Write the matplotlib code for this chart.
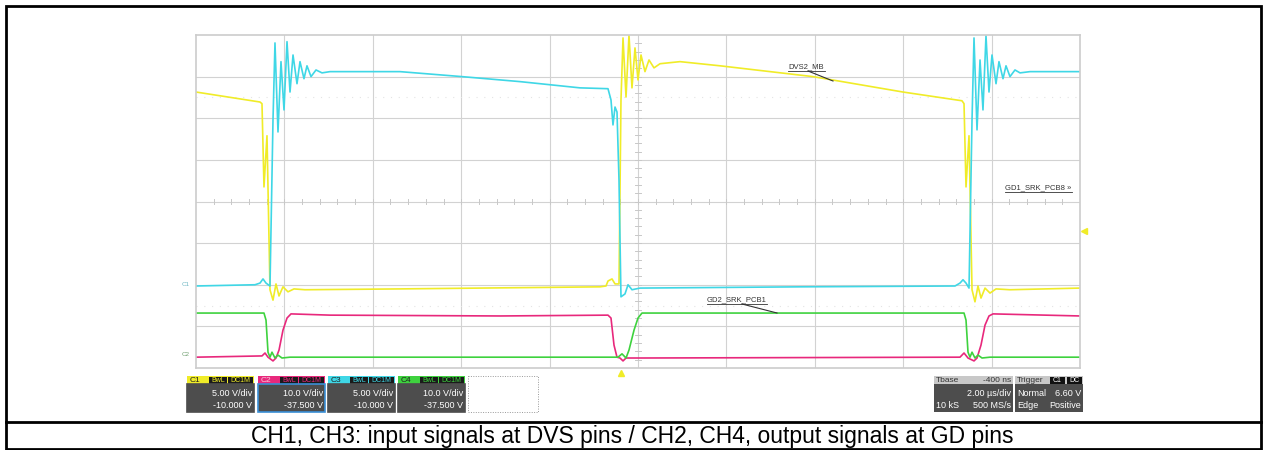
import numpy as np
import matplotlib.pyplot as plt
from matplotlib.patches import Rectangle

plt.rcParams['font.family'] = ['Liberation Sans', 'DejaVu Sans']

# time in us (2 us/div, 10 div), level in screen divisions (0 = bottom, 8 = top)
# C1 - DVS input (yellow)
t_c1 = [0, 1.448, 1.493, 1.538, 1.606, 1.674, 1.742, 1.810, 1.878, 1.968, 2.081, 2.217, 2.466,
        4.615, 9.140, 9.276, 9.321, 9.412, 9.480, 9.570, 9.615, 9.661, 9.729, 9.796, 9.864, 9.932,
        10.0, 10.068, 10.158, 10.249, 10.362, 10.498, 10.950, 11.855, 13.959, 15.995, 17.330,
        17.376, 17.421, 17.489, 17.557, 17.624, 17.692, 17.760, 17.851, 17.964, 18.100, 18.416, 20.0]
v_c1 = [6.63, 6.39, 6.35, 4.35, 5.58, 1.88, 1.63, 2.02, 1.73, 1.95, 1.83, 1.90, 1.88,
        1.90, 1.95, 1.97, 2.09, 2.14, 2.02, 2.02, 6.44, 7.93, 6.51, 8.00, 6.73, 7.69,
        6.92, 7.52, 7.12, 7.40, 7.21, 7.31, 7.36, 7.26, 7.00, 6.63, 6.42,
        6.35, 4.35, 5.58, 1.88, 1.59, 1.97, 1.68, 1.92, 1.80, 1.90, 1.88, 1.92]

# C3 - DVS input (cyan)
t_c3 = [0, 1.335, 1.448, 1.516, 1.584, 1.674, 1.742, 1.787, 1.855, 1.923,
        1.991, 2.059, 2.127, 2.195, 2.285, 2.353, 2.443, 2.511, 2.602, 2.715,
        2.851, 3.032, 4.615, 6.018, 7.330, 8.688, 9.321, 9.389, 9.434, 9.480,
        9.525, 9.570, 9.615, 9.706, 9.774, 9.864, 10.045, 13.665, 17.172, 17.285,
        17.353, 17.421, 17.489, 17.557, 17.602, 17.670, 17.738, 17.805, 17.873, 17.941,
        18.009, 18.100, 18.167, 18.258, 18.326, 18.416, 18.529, 18.643, 18.869, 20.0]
v_c3 = [1.97, 2.00, 2.04, 2.14, 2.04, 1.97, 5.96, 7.81, 5.67, 7.36,
        6.20, 7.84, 6.63, 7.52, 6.83, 7.36, 6.95, 7.26, 7.00, 7.16,
        7.09, 7.12, 7.12, 7.00, 6.88, 6.73, 6.71, 6.44, 5.84, 6.27,
        6.15, 4.52, 1.71, 1.78, 2.00, 1.88, 1.92, 1.95, 1.97, 2.04,
        2.12, 2.04, 1.92, 5.96, 7.93, 5.72, 7.40, 6.20, 7.98, 6.63,
        7.52, 6.83, 7.36, 6.95, 7.26, 7.00, 7.16, 7.09, 7.12, 7.12]

# C4 - GD output (green)
t_c4 = [0, 1.538, 1.584, 1.629, 1.674, 1.719, 1.787, 1.855, 1.946, 2.127,
        9.548, 9.638, 9.729, 9.796, 9.910, 10.0, 10.090,
        17.376, 17.421, 17.466, 17.511, 17.557, 17.624, 17.692, 17.783, 17.964, 20.0]
v_c4 = [1.32, 1.32, 1.15, 0.38, 0.26, 0.38, 0.24, 0.31, 0.24, 0.26,
        0.26, 0.34, 0.24, 0.43, 0.91, 1.20, 1.32,
        1.32, 1.15, 0.38, 0.26, 0.38, 0.24, 0.31, 0.24, 0.26, 0.26]

# C2 - GD output (magenta)
t_c2 = [0, 1.493, 1.561, 1.629, 1.742, 1.810, 1.878, 1.968, 2.059, 2.149,
        3.032, 6.878, 9.321, 9.389, 9.457, 9.525, 9.593, 9.661, 9.729, 10.045,
        17.285, 17.376, 17.466, 17.602, 17.670, 17.760, 17.851, 17.941, 18.032, 20.0]
v_c2 = [0.26, 0.29, 0.36, 0.26, 0.17, 0.24, 0.43, 0.91, 1.20, 1.30,
        1.27, 1.25, 1.27, 1.20, 0.55, 0.26, 0.24, 0.17, 0.24, 0.24,
        0.26, 0.36, 0.24, 0.17, 0.24, 0.55, 1.03, 1.25, 1.30, 1.25]

ch_names = ['C1', 'C2', 'C3', 'C4']
ch_colors = ['#f0ec28', '#e8287c', '#3fd7e6', '#3ed23e']
ch_vdiv = ['5.00 V/div', '10.0 V/div', '5.00 V/div', '10.0 V/div']
ch_offs = ['-10.000 V', '-37.500 V', '-10.000 V', '-37.500 V']
caption = 'CH1, CH3: input signals at DVS pins / CH2, CH4, output signals at GD pins'

fig = plt.figure(figsize=(12.64, 4.5), dpi=100)
bg = fig.add_axes([0, 0, 1, 1])
bg.set_xlim(0, 1264)
bg.set_ylim(450, 0)
bg.axis('off')

# frame and caption
bg.add_patch(Rectangle((6, 6), 1255, 443, fill=False, lw=2.0, ec='black'))
bg.plot([6, 1261], [422, 422], color='black', lw=2.0)
bg.text(632, 437, caption, ha='center', va='center', fontsize=16.5)

# scope grid
ax = fig.add_axes([196/1264, 82/450, 884/1264, 333/450])
ax.set_facecolor('none')
ax.set_xlim(0, 20)
ax.set_ylim(0, 8)
ax.set_xticks([])
ax.set_yticks([])
for s in ax.spines.values():
    s.set_color('#cccccc')
    s.set_linewidth(1.2)
for gx in range(2, 20, 2):
    ax.axvline(gx, color='#d2d2d2', lw=0.8, zorder=0)
for gy in range(1, 8):
    ax.axhline(gy, color='#d2d2d2', lw=0.8, zorder=0)
for gy in [6.5, 1.5]:
    ax.axhline(gy, color='#e4e4e4', lw=0.8, ls=(0, (1, 6)), zorder=0)
# center tick marks
for tx in np.arange(0.4, 20, 0.4):
    ax.plot([tx, tx], [3.93, 4.07], color='#c8c8c8', lw=0.7, zorder=0)
for ty in np.arange(0.2, 8, 0.2):
    ax.plot([9.93, 10.07], [ty, ty], color='#c8c8c8', lw=0.7, zorder=0)

ax.plot(t_c1, v_c1, color=ch_colors[0], lw=1.2)
ax.plot(t_c2, v_c2, color=ch_colors[1], lw=1.2)
ax.plot(t_c3, v_c3, color=ch_colors[2], lw=1.2)
ax.plot(t_c4, v_c4, color=ch_colors[3], lw=1.2)

# trace labels
tr = bg.transData
def tag(x, y, s, x2, lead=None):
    ax.text(x, y, s, transform=tr, fontsize=5.5, color='#333333', va='center', ha='left')
    ax.plot([x, x2], [y + 4, y + 4], transform=tr, color='#333333', lw=0.6, clip_on=False)
    if lead:
        ax.plot(lead[0], lead[1], transform=tr, color='#333333', lw=0.8, clip_on=False)

tag(788, 67, 'DVS2_MB', 825, ([808, 833], [71, 81]))
tag(1005, 188, 'GD1_SRK_PCB8 »', 1072)
tag(707, 300, 'GD2_SRK_PCB1', 767, ([742, 777], [304, 313]))

bg.text(186, 284, 'C1', fontsize=4.5, color='#70b8c4', ha='center', va='center')
bg.text(186, 355, 'C2', fontsize=4.5, color='#70a070', ha='center', va='center')
bg.plot([1084], [231], marker='<', ms=4, color=ch_colors[0])
bg.plot([621], [373], marker='^', ms=4, color=ch_colors[0])

# channel info boxes
box_x = [187, 258, 328, 398]
for i in range(4):
    x0 = box_x[i]
    c = ch_colors[i]
    bg.add_patch(Rectangle((x0, 376), 67, 8, color=c, lw=0))
    bg.text(x0 + 3, 380.5, ch_names[i], fontsize=6, color='#222222' if i != 1 else '#f8c8dc',
            va='center', ha='left')
    bg.add_patch(Rectangle((x0 + 22, 377), 18, 6.5, color='#1a1a1a', lw=0))
    bg.add_patch(Rectangle((x0 + 41, 377), 25, 6.5, color='#1a1a1a', lw=0))
    bg.text(x0 + 31, 380.5, 'BwL', fontsize=5, color=c, va='center', ha='center')
    bg.text(x0 + 53.5, 380.5, 'DC1M', fontsize=5, color=c, va='center', ha='center')
    ec = '#3a8fd6' if i == 1 else '#4d4d4d'
    bg.add_patch(Rectangle((x0, 384), 67, 28, fc='#4d4d4d', ec=ec, lw=1.2))
    bg.text(x0 + 65, 393, ch_vdiv[i], fontsize=6.5, color='white', va='center', ha='right')
    bg.text(x0 + 65, 406, ch_offs[i], fontsize=6.5, color='white', va='center', ha='right')
bg.add_patch(Rectangle((468, 376), 70, 36, fill=False, ec='#999999', lw=0.7, ls=(0, (1, 1.5))))

# timebase / trigger boxes
bg.add_patch(Rectangle((934, 376), 79, 8, color='#c8c8c8', lw=0))
bg.text(936, 380.5, 'Tbase', fontsize=6, color='#333333', va='center', ha='left')
bg.text(1011, 380.5, '-400 ns', fontsize=6, color='#333333', va='center', ha='right')
bg.add_patch(Rectangle((934, 384), 79, 28, color='#4d4d4d', lw=0))
bg.text(1011, 393, '2.00 µs/div', fontsize=6.5, color='white', va='center', ha='right')
bg.text(936, 406, '10 kS', fontsize=6.5, color='white', va='center', ha='left')
bg.text(1011, 406, '500 MS/s', fontsize=6.5, color='white', va='center', ha='right')

bg.add_patch(Rectangle((1015, 376), 68, 8, color='#c8c8c8', lw=0))
bg.text(1017, 380.5, 'Trigger', fontsize=6, color='#333333', va='center', ha='left')
bg.add_patch(Rectangle((1050, 377), 15, 6.5, color='#111111', lw=0))
bg.add_patch(Rectangle((1067, 377), 15, 6.5, color='#111111', lw=0))
bg.text(1057.5, 380.5, 'C1', fontsize=5, color='white', va='center', ha='center')
bg.text(1074.5, 380.5, 'DC', fontsize=5, color='white', va='center', ha='center')
bg.add_patch(Rectangle((1015, 384), 68, 28, color='#4d4d4d', lw=0))
bg.text(1017, 393, 'Normal', fontsize=6.5, color='white', va='center', ha='left')
bg.text(1081, 393, '6.60 V', fontsize=6.5, color='white', va='center', ha='right')
bg.text(1017, 406, 'Edge', fontsize=6.5, color='white', va='center', ha='left')
bg.text(1081, 406, 'Positive', fontsize=6.5, color='white', va='center', ha='right')

fig.savefig('out.png', dpi=100)
